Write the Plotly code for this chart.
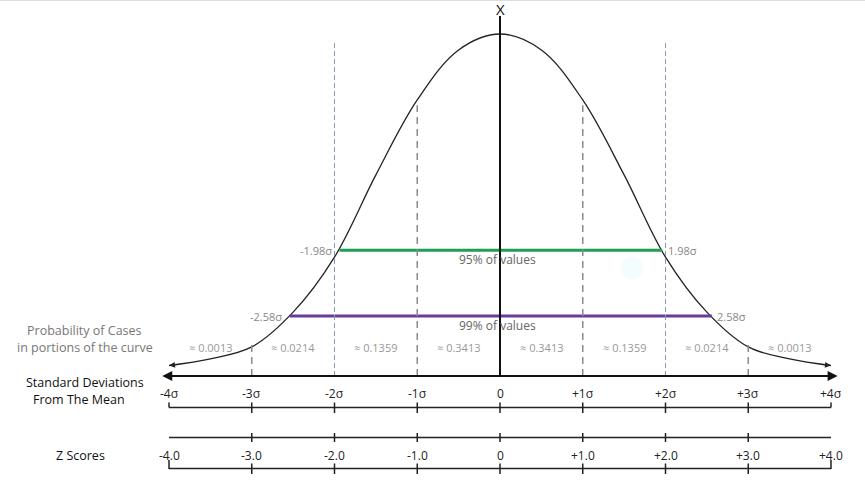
import plotly.graph_objects as go

# ---------------- data ----------------
curve_x = [-4.0, -3.5, -3.0, -2.5, -2.0, -1.5, -1.0, -0.5, 0.0, 0.5, 1.0, 1.5, 2.0, 2.5, 3.0, 3.5, 4.0]
curve_h = [0.0, 0.020, 0.056, 0.161, 0.327, 0.575, 0.801, 0.952, 1.0, 0.952, 0.801, 0.575, 0.327, 0.161, 0.056, 0.020, 0.0]

sd_ticks = [-4, -3, -2, -1, 0, 1, 2, 3, 4]
sd_labels = ["-4σ", "-3σ", "-2σ", "-1σ", "0", "+1σ", "+2σ", "+3σ", "+4σ"]
z_labels = ["-4.0", "-3.0", "-2.0", "-1.0", "0", "+1.0", "+2.0", "+3.0", "+4.0"]

prob_mid = [-3.5, -2.5, -1.5, -0.5, 0.5, 1.5, 2.5, 3.5]
prob_labels = ["≈ 0.0013", "≈ 0.0214", "≈ 0.1359", "≈ 0.3413", "≈ 0.3413", "≈ 0.1359", "≈ 0.0214", "≈ 0.0013"]

interval_bounds = [1.98, 2.58]
interval_levels = [0.348, 0.149]
interval_names = ["95% of values", "99% of values"]
interval_colors = ["#1f9e55", "#6a3a98"]

# dashed guide tops (heights in curve units)
guide_x = [-3, -2, -1, 1, 2, 3]
guide_top = [0.062, 0.98, 0.785, 0.785, 0.98, 0.062]

# ---------------- helpers for layout (pixel -> data) ----------------
W, H = 865, 502
PX0, PXS = 500.0, 82.75          # px of x=0, px per sigma
BASE, PYS = 365.5, 331.5         # px of curve baseline, px per height unit


def ypx(p):
    return (BASE - p) / PYS


FONT = "Open Sans"
fig = go.Figure()

# curve
fig.add_trace(go.Scatter(x=curve_x, y=curve_h, mode="lines",
                         line=dict(color="#222222", width=1.3, shape="spline", smoothing=1.0),
                         hoverinfo="skip", showlegend=False))

shapes = []
annotations = []

# faint artifact blob
shapes.append(dict(type="circle", xref="x", yref="y",
                   x0=(621 - PX0) / PXS, x1=(643 - PX0) / PXS, y0=ypx(279), y1=ypx(257),
                   fillcolor="rgba(220,250,250,0.35)", line=dict(width=0), layer="below"))

# top border
shapes.append(dict(type="line", xref="paper", yref="paper", x0=0, x1=1, y0=0.999, y1=0.999,
                   line=dict(color="#dddddd", width=1)))

# dashed guides
for gx, gt in zip(guide_x, guide_top):
    if abs(gx) == 2:
        col, wd, dsh = "#8498b8", 1, "5px,3px"
    else:
        col, wd, dsh = "#8a8a8a", 1.5, "7px,5px"
    shapes.append(dict(type="line", xref="x", yref="y", x0=gx, x1=gx, y0=ypx(376), y1=gt,
                       line=dict(color=col, width=wd, dash=dsh)))

# centre vertical line
shapes.append(dict(type="line", xref="x", yref="y", x0=0, x1=0, y0=ypx(376), y1=ypx(16),
                   line=dict(color="#111111", width=2)))
annotations.append(dict(x=0, y=ypx(9), text="X", showarrow=False, xref="x", yref="y",
                        font=dict(family=FONT, size=15, color="#111111")))

# interval lines + labels
for b, lv, nm, c in zip(interval_bounds, interval_levels, interval_names, interval_colors):
    fig.add_trace(go.Scatter(x=[-b + 0.04, b - 0.02], y=[lv, lv], mode="lines",
                             line=dict(color=c, width=3), hoverinfo="skip", showlegend=False))
    annotations.append(dict(x=-b - 0.03, y=lv, text=f"-{b:.2f}σ", showarrow=False, xanchor="right",
                            xref="x", yref="y", font=dict(family=FONT, size=11, color="#888888")))
    annotations.append(dict(x=b + 0.02, y=lv, text=f"{b:.2f}σ", showarrow=False, xanchor="left",
                            xref="x", yref="y", font=dict(family=FONT, size=11, color="#888888")))
    annotations.append(dict(x=-0.03, y=lv - 9.5 / PYS, text=nm, showarrow=False,
                            xref="x", yref="y", font=dict(family=FONT, size=12, color="#666666")))

# probabilities
for m, t in zip(prob_mid, prob_labels):
    annotations.append(dict(x=m, y=ypx(347), text=t, showarrow=False, xref="x", yref="y",
                            font=dict(family=FONT, size=11, color="#999999")))

# main axis (double arrow)
annotations.append(dict(x=4.08, y=ypx(376), ax=-4.1, ay=ypx(376), xref="x", yref="y",
                        axref="x", ayref="y", text="", showarrow=True, arrowhead=2,
                        startarrowhead=2, arrowside="end+start", arrowsize=1, startarrowsize=1,
                        arrowwidth=2, arrowcolor="#111111"))

# curve end arrowheads
for sgn in (-1, 1):
    annotations.append(dict(x=sgn * 4.0, y=0.0, ax=sgn * 3.85, ay=0.004, xref="x", yref="y",
                            axref="x", ayref="y", text="", showarrow=True, arrowhead=2,
                            arrowsize=1.2, arrowwidth=1, arrowcolor="#222222"))

# sd labels + bracket
for t, lab, zl in zip(sd_ticks, sd_labels, z_labels):
    annotations.append(dict(x=t, y=ypx(393), text=lab, showarrow=False, xref="x", yref="y",
                            font=dict(family=FONT, size=12, color="#222222")))
    annotations.append(dict(x=t, y=ypx(455), text=zl, showarrow=False, xref="x", yref="y",
                            font=dict(family=FONT, size=12, color="#222222")))
    if abs(t) == 4:
        segs = [(402.5, 407.5), (460, 469)]
    else:
        segs = [(402.5, 413), (433, 442), (463.5, 474)]
    for a, b in segs:
        shapes.append(dict(type="line", xref="x", yref="y", x0=t, x1=t, y0=ypx(a), y1=ypx(b),
                           line=dict(color="#222222", width=1.5)))

for p in (407.5, 437.5, 468.5):
    shapes.append(dict(type="line", xref="x", yref="y", x0=-4, x1=4, y0=ypx(p), y1=ypx(p),
                       line=dict(color="#222222", width=1.5)))

# left labels
annotations.append(dict(x=(84 - PX0) / PXS, y=ypx(330), text="Probability of Cases", showarrow=False,
                        xref="x", yref="y", font=dict(family=FONT, size=12.5, color="#777777")))
annotations.append(dict(x=(85 - PX0) / PXS, y=ypx(347), text="in portions of the curve", showarrow=False,
                        xref="x", yref="y", font=dict(family=FONT, size=12.5, color="#777777")))
annotations.append(dict(x=(85 - PX0) / PXS, y=ypx(382), text="Standard Deviations", showarrow=False,
                        xref="x", yref="y", font=dict(family=FONT, size=12.5, color="#111111")))
annotations.append(dict(x=(79 - PX0) / PXS, y=ypx(399), text="From The Mean", showarrow=False,
                        xref="x", yref="y", font=dict(family=FONT, size=12.5, color="#111111")))
annotations.append(dict(x=(80 - PX0) / PXS, y=ypx(455), text="Z Scores", showarrow=False,
                        xref="x", yref="y", font=dict(family=FONT, size=12.5, color="#111111")))

fig.update_layout(
    width=W, height=H, margin=dict(l=0, r=0, t=0, b=0),
    paper_bgcolor="white", plot_bgcolor="white",
    xaxis=dict(range=[(0 - PX0) / PXS, (W - PX0) / PXS], visible=False, fixedrange=True),
    yaxis=dict(range=[ypx(H), ypx(0)], visible=False, fixedrange=True),
    shapes=shapes, annotations=annotations, showlegend=False,
)

fig.write_html("out.html", config={"displayModeBar": False},
               post_script="document.body.style.margin='0';document.body.style.overflow='hidden';")
